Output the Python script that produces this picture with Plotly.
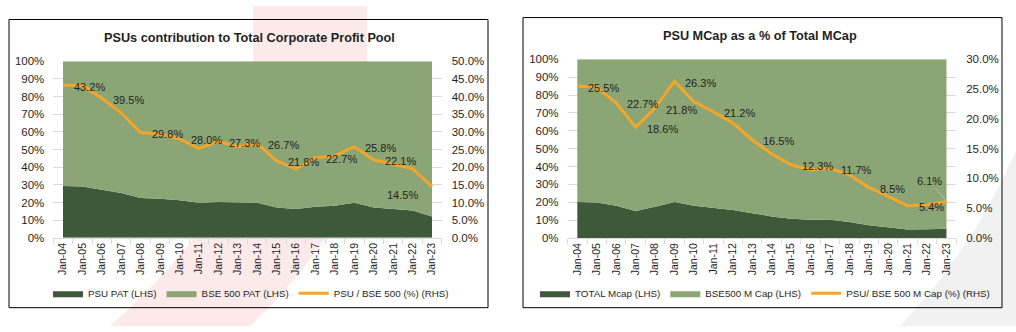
import plotly.graph_objects as go

# ---------------- data ----------------
categories = ['Jan-04', 'Jan-05', 'Jan-06', 'Jan-07', 'Jan-08', 'Jan-09', 'Jan-10', 'Jan-11',
              'Jan-12', 'Jan-13', 'Jan-14', 'Jan-15', 'Jan-16', 'Jan-17', 'Jan-18', 'Jan-19',
              'Jan-20', 'Jan-21', 'Jan-22', 'Jan-23']

# Left chart: 100% stacked area shares (LHS) and ratio line (RHS)
psu_pat_share = [29.4, 29.1, 27.2, 25.4, 22.5, 22.1, 21.2, 19.9, 20.3, 19.9,
                 19.9, 17.2, 16.3, 17.6, 18.1, 19.8, 17.2, 16.3, 15.4, 12.1]
bse500_pat_share = [70.6, 70.9, 72.8, 74.6, 77.5, 77.9, 78.8, 80.1, 79.7, 80.1,
                    80.1, 82.8, 83.7, 82.4, 81.9, 80.2, 82.8, 83.7, 84.6, 87.9]
psu_bse_ratio = [43.2, 43.1, 39.5, 35.4, 29.8, 29.3, 28.0, 25.3, 27.3, 25.8,
                 26.7, 21.8, 19.5, 22.7, 23.2, 25.8, 22.1, 20.8, 19.6, 14.5]
left_labelled = [0, 2, 4, 6, 8, 10, 11, 13, 15, 16, 19]

# Right chart
total_mcap_share = [20.2, 19.8, 18.0, 15.1, 17.5, 20.2, 18.0, 16.9, 15.6, 13.9,
                    12.1, 10.8, 10.2, 10.2, 9.0, 7.2, 5.8, 4.7, 4.9, 5.2]
bse500_mcap_share = [79.8, 80.2, 82.0, 84.9, 82.5, 79.8, 82.0, 83.1, 84.4, 86.1,
                     87.9, 89.2, 89.8, 89.8, 91.0, 92.8, 94.2, 95.3, 95.1, 94.8]
psu_mcap_ratio = [25.5, 25.3, 22.7, 18.6, 21.8, 26.3, 22.9, 21.2, 19.3, 16.5,
                  14.1, 12.3, 11.4, 11.7, 10.6, 8.5, 7.0, 5.4, 5.6, 6.1]
right_labelled = [0, 2, 3, 4, 5, 7, 9, 11, 13, 15, 17, 19]

left_title = 'PSUs contribution to Total Corporate Profit Pool'
right_title = 'PSU MCap as a % of Total MCap'
left_names = ['PSU PAT (LHS)', 'BSE 500 PAT (LHS)', 'PSU / BSE 500 (%) (RHS)']
right_names = ['TOTAL Mcap (LHS)', 'BSE500 M Cap (LHS)', 'PSU/ BSE 500 M Cap (%) (RHS)']

# ---------------- style ----------------
W, H = 1016, 332
DARK = '#3e5939'
LIGHT = '#8ba574'
ORANGE = '#f4a62a'
GRID = '#d9d9d9'
TXT = '#1f1f1f'
FONT = 'Liberation Sans, Arial, sans-serif'


def px(x):
    return x / W


def py(y):
    return 1 - y / H


fig = go.Figure()

# Left chart traces
fig.add_trace(go.Scatter(x=categories, y=psu_pat_share, name=left_names[0], stackgroup='L',
                         mode='lines', line=dict(width=0, color=DARK), fillcolor=DARK,
                         xaxis='x', yaxis='y', legend='legend', hoverinfo='skip'))
fig.add_trace(go.Scatter(x=categories, y=bse500_pat_share, name=left_names[1], stackgroup='L',
                         mode='lines', line=dict(width=0, color=LIGHT), fillcolor=LIGHT,
                         xaxis='x', yaxis='y', legend='legend', hoverinfo='skip'))
fig.add_trace(go.Scatter(x=categories, y=psu_bse_ratio, name=left_names[2], mode='lines',
                         line=dict(width=3, color=ORANGE), xaxis='x', yaxis='y2',
                         legend='legend'))

# Right chart traces
fig.add_trace(go.Scatter(x=categories, y=total_mcap_share, name=right_names[0], stackgroup='R',
                         mode='lines', line=dict(width=0, color=DARK), fillcolor=DARK,
                         xaxis='x2', yaxis='y3', legend='legend2', hoverinfo='skip'))
fig.add_trace(go.Scatter(x=categories, y=bse500_mcap_share, name=right_names[1], stackgroup='R',
                         mode='lines', line=dict(width=0, color=LIGHT), fillcolor=LIGHT,
                         xaxis='x2', yaxis='y3', legend='legend2', hoverinfo='skip'))
fig.add_trace(go.Scatter(x=categories, y=psu_mcap_ratio, name=right_names[2], mode='lines',
                         line=dict(width=3, color=ORANGE), xaxis='x2', yaxis='y4',
                         legend='legend2'))

tickfont = dict(family=FONT, size=11.5, color=TXT)
xcommon = dict(type='category', range=[-0.5, len(categories) - 0.5], tickangle=-90,
               ticks='outside', tickson='boundaries', ticklen=5, tickcolor=GRID,
               showline=True, linecolor=GRID, showgrid=False, zeroline=False,
               tickfont=dict(family=FONT, size=10.5, color=TXT), fixedrange=True)
ycommon = dict(showgrid=True, gridcolor=GRID, gridwidth=1, zeroline=False, ticks='',
               showline=False, tickfont=tickfont, ticklabelstandoff=8, fixedrange=True)
legfont = dict(family=FONT, size=9.8, color=TXT)

fig.update_layout(
    width=W, height=H,
    margin=dict(l=0, r=0, t=0, b=0),
    paper_bgcolor='white', plot_bgcolor='rgba(0,0,0,0)',
    font=dict(family=FONT, color=TXT),
    xaxis=dict(domain=[px(53.3), px(441.7)], anchor='y', **xcommon),
    yaxis=dict(domain=[py(240.5), py(57.3)], anchor='x', range=[0, 100], dtick=10,
               ticksuffix='%', **ycommon),
    yaxis2=dict(overlaying='y', side='right', anchor='x', range=[0, 50], dtick=5,
                tickformat='.1f', ticksuffix='%', showgrid=False, zeroline=False,
                tickfont=tickfont, ticklabelstandoff=9, fixedrange=True),
    xaxis2=dict(domain=[px(567.6), px(956.2)], anchor='y3', **xcommon),
    yaxis3=dict(domain=[py(240.7), py(55.3)], anchor='x2', range=[0, 100], dtick=10,
                ticksuffix='%', **ycommon),
    yaxis4=dict(overlaying='y3', side='right', anchor='x2', range=[0, 30], dtick=5,
                tickformat='.1f', ticksuffix='%', showgrid=False, zeroline=False,
                tickfont=tickfont, ticklabelstandoff=9, fixedrange=True),
    legend=dict(orientation='h', x=px(251), xanchor='center', y=py(298), yanchor='middle',
                font=legfont, bgcolor='rgba(0,0,0,0)', traceorder='normal'),
    legend2=dict(orientation='h', x=px(765), xanchor='center', y=py(298), yanchor='middle',
                 font=legfont, bgcolor='rgba(0,0,0,0)', traceorder='normal'),
    showlegend=True,
)

# Background watermark decorations
fig.add_shape(type='path', xref='paper', yref='paper', layer='below',
              path=(f'M {px(253)} {py(0)} L {px(367)} {py(0)} L {px(367)} {py(150)} '
                    f'Q {px(335)} {py(250)} {px(250)} {py(332)} L {px(110)} {py(332)} '
                    f'Q {px(200)} {py(250)} {px(253)} {py(150)} Z'),
              fillcolor='rgba(225,60,60,0.11)', line=dict(width=0))
fig.add_shape(type='path', xref='paper', yref='paper', layer='below',
              path=(f'M {px(900)} {py(332)} Q {px(975)} {py(250)} {px(1016)} {py(150)} '
                    f'L {px(1016)} {py(332)} Z'),
              fillcolor='rgba(150,150,150,0.13)', line=dict(width=0))

# Panel frames
fig.add_shape(type='rect', xref='paper', yref='paper', x0=px(9), x1=px(488), y0=py(313), y1=py(14),
              line=dict(color='black', width=1), fillcolor='rgba(0,0,0,0)')
fig.add_shape(type='rect', xref='paper', yref='paper', x0=px(523), x1=px(1002), y0=py(313), y1=py(12),
              line=dict(color='black', width=1), fillcolor='rgba(0,0,0,0)')

# Titles
titlefont = dict(family=FONT, size=12.7, color=TXT)
fig.add_annotation(text=f'<b>{left_title}</b>', xref='paper', yref='paper', x=px(249), y=py(33),
                   xanchor='center', yanchor='middle', showarrow=False, font=titlefont)
fig.add_annotation(text=f'<b>{right_title}</b>', xref='paper', yref='paper', x=px(760), y=py(31),
                   xanchor='center', yanchor='middle', showarrow=False, font=titlefont)

lblfont = dict(family=FONT, size=11, color=TXT)

# Data labels, left chart
for i in left_labelled:
    v = psu_bse_ratio[i]
    if i == len(categories) - 1:
        fig.add_annotation(x=categories[i], y=v, xref='x', yref='y2', text=f'{v:.1f}%',
                           showarrow=False, xanchor='right', yanchor='middle',
                           xshift=-12, yshift=-8, font=lblfont)
    else:
        fig.add_annotation(x=categories[i], y=v, xref='x', yref='y2', text=f'{v:.1f}%',
                           showarrow=False, xanchor='left', yanchor='middle',
                           xshift=9, yshift=-1.5, font=lblfont)

# Data labels, right chart
for i in right_labelled:
    v = psu_mcap_ratio[i]
    if i == len(categories) - 1:
        fig.add_annotation(x=categories[i], y=v, xref='x2', yref='y4', text=f'{v:.1f}%',
                           showarrow=True, arrowhead=0, arrowwidth=0.8, arrowcolor='#bfbfbf',
                           ax=-17, ay=-21, font=lblfont)
    else:
        fig.add_annotation(x=categories[i], y=v, xref='x2', yref='y4', text=f'{v:.1f}%',
                           showarrow=False, xanchor='left', yanchor='middle',
                           xshift=9, yshift=-1.5, font=lblfont)

fig.write_html('out.html')
